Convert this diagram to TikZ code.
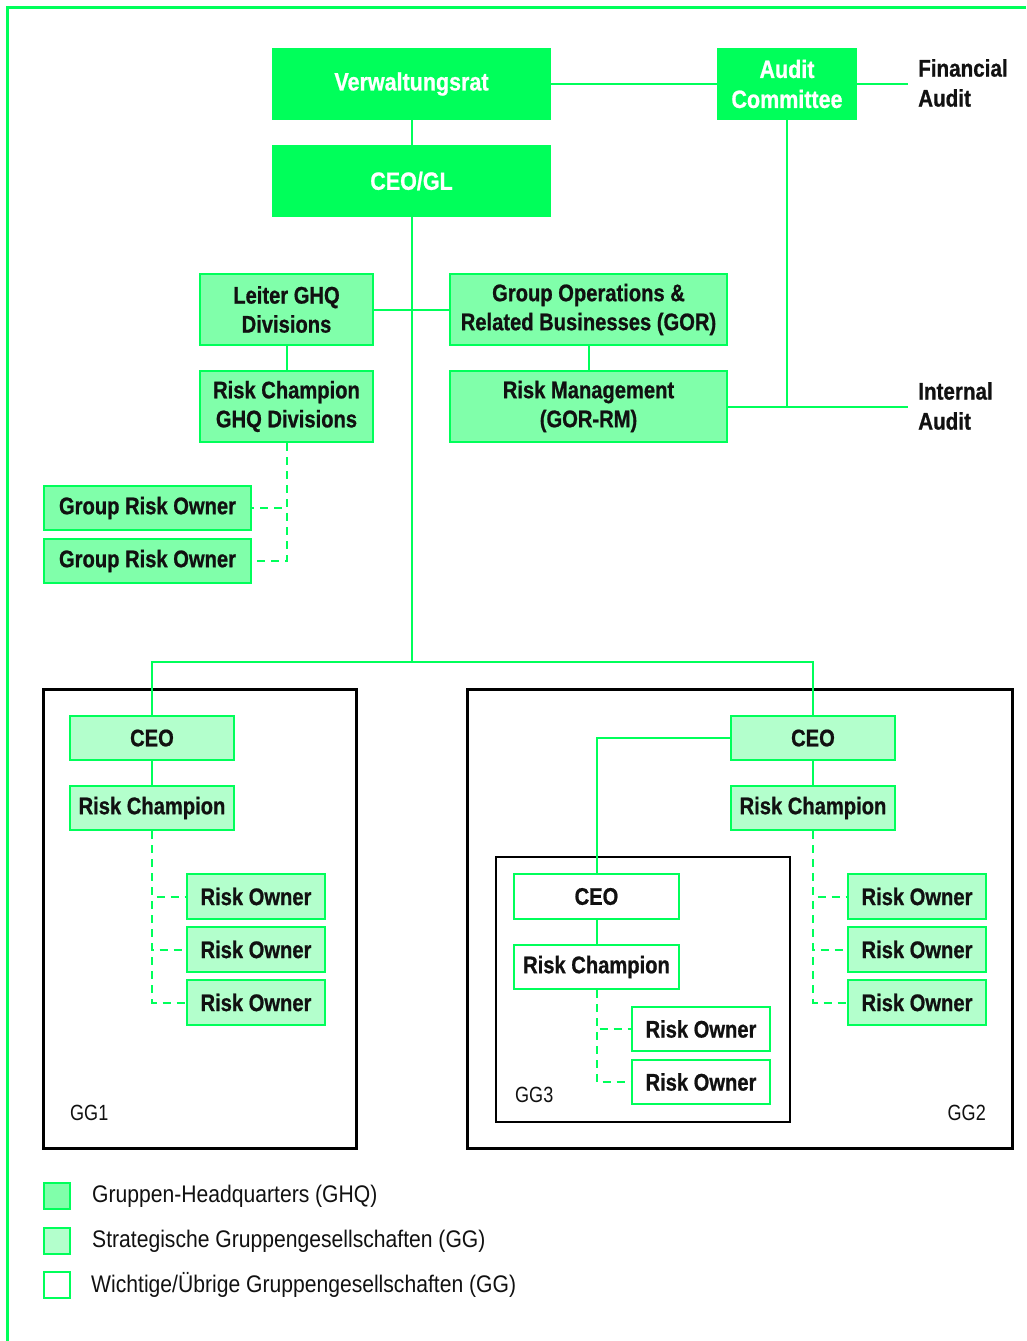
\documentclass[tikz,border=0pt]{standalone}
\usepackage{fontspec}
\setmainfont{Liberation Sans}[FakeStretch=0.82]
\newfontfamily\boxfont{Liberation Sans Bold}[FakeStretch=0.84,FakeBold=0.8]
\newfontfamily\topfont{Liberation Sans Bold}[FakeStretch=0.86,FakeBold=0.8]
\newfontfamily\legfont{Liberation Sans}[FakeStretch=0.88]
\usetikzlibrary{positioning}
\definecolor{gr}{RGB}{0,255,90}
\definecolor{ghqfill}{RGB}{128,255,170}
\definecolor{ggfill}{RGB}{179,255,204}
\definecolor{ink}{RGB}{17,17,17}
\begin{document}
\begin{tikzpicture}[x=1pt,y=-1pt,
  link/.style={draw=gr,line width=2pt},
  dlink/.style={draw=gr,line width=2pt,dash pattern=on 8pt off 6pt},
  topbox/.style={fill=gr,text=white,font=\topfont\fontsize{25}{30}\selectfont,align=center,inner sep=0pt},
  ghqbox/.style={draw=gr,line width=2pt,fill=ghqfill,text=ink,font=\boxfont\fontsize{24}{29}\selectfont,align=center,inner sep=0pt},
  ggbox/.style={draw=gr,line width=2pt,fill=ggfill,text=ink,font=\boxfont\fontsize{24}{29}\selectfont,align=center,inner sep=0pt},
  plainbox/.style={draw=gr,line width=2pt,fill=white,text=ink,font=\boxfont\fontsize{24}{29}\selectfont,align=center,inner sep=0pt},
  sidelabel/.style={text=ink,font=\topfont\fontsize{24}{30}\selectfont,align=left,anchor=west,inner sep=2pt},
  grplabel/.style={text=ink,font=\fontsize{22}{26}\selectfont,inner sep=0pt},
  legsq/.style={draw=gr,line width=2pt,minimum width=26pt,minimum height=26pt,inner sep=0pt},
  legtext/.style={text=ink,font=\legfont\fontsize{24}{28}\selectfont,anchor=west,inner sep=0pt},
  company/.style={draw=black,line width=3pt}
]
\useasboundingbox (0,0) rectangle (1026,1341);
\fill[white] (0,0) rectangle (1026,1341);

% outer frame (top and left edge)
\draw[draw=gr,line width=3pt] (7,1341) -- (7,7) -- (1026,7);

% headquarters level
\node[topbox,minimum width=279pt,minimum height=72pt] (vr) at (411.5,84) {Verwaltungsrat};
\node[topbox,minimum width=279pt,minimum height=72pt] (ceogl) at (411.5,181) {CEO/GL};
\node[topbox,minimum width=140pt,minimum height=72pt] (audit) at (787,84) {Audit\\Committee};
\node[sidelabel] (fa) at (916,83) {Financial\\Audit};
\node[sidelabel] (ia) at (916,406) {Internal\\Audit};

\node[ghqbox,minimum width=173pt,minimum height=71pt] (leiter) at (286.5,309.5) {Leiter GHQ\\Divisions};
\node[ghqbox,minimum width=277pt,minimum height=71pt] (gor) at (588.5,309.5) {Group Operations \&\\Related Businesses (GOR)};
\node[ghqbox,minimum width=173pt,minimum height=71pt] (rcghq) at (286.5,406.5) {Risk Champion\\GHQ Divisions};
\node[ghqbox,minimum width=277pt,minimum height=71pt] (rm) at (588.5,406.5) {Risk Management\\(GOR-RM)};
\node[ghqbox,minimum width=207pt,minimum height=44pt] (gro1) at (147.5,508) {Group Risk Owner};
\node[ghqbox,minimum width=207pt,minimum height=44pt] (gro2) at (147.5,561) {Group Risk Owner};

\draw[link] (vr) -- (audit);
\draw[link] (audit.east) -- (908,84);
\draw[link] (vr) -- (ceogl);
\draw[link] (audit.south) -- (audit.south |- rm.east);
\draw[link] (rm.east) -- (908,406.5);
\draw[link] (leiter) -- (gor);
\draw[link] (leiter) -- (rcghq);
\draw[link] (gor) -- (rm);
\draw[dlink] (rcghq.south) |- (gro1.east);
\draw[dlink] (rcghq.south) |- (gro2.east);

% group companies
\draw[company] (43,689) rectangle (356,1148);
\draw[company] (467,689) rectangle (1012,1148);
\draw[black,line width=2pt] (496,857) rectangle (790,1122);
\node[grplabel,anchor=west] (gg1) at (70,1113) {GG1};
\node[grplabel,anchor=east] (gg2) at (986,1113) {GG2};
\node[grplabel,anchor=west] (gg3) at (515,1095) {GG3};

% GG1
\node[ggbox,minimum width=164pt,minimum height=44pt] (ceo1) at (152,738) {CEO};
\node[ggbox,minimum width=164pt,minimum height=44pt] (rc1) at (152,808) {Risk Champion};
\node[ggbox,minimum width=138pt,minimum height=45pt] (ro11) at (256,896.5) {Risk Owner};
\node[ggbox,minimum width=138pt,minimum height=45pt] (ro12) at (256,949.5) {Risk Owner};
\node[ggbox,minimum width=138pt,minimum height=45pt] (ro13) at (256,1002.5) {Risk Owner};

% GG2
\node[ggbox,minimum width=164pt,minimum height=44pt] (ceo2) at (813,738) {CEO};
\node[ggbox,minimum width=164pt,minimum height=44pt] (rc2) at (813,808) {Risk Champion};
\node[ggbox,minimum width=138pt,minimum height=45pt] (ro21) at (917,896.5) {Risk Owner};
\node[ggbox,minimum width=138pt,minimum height=45pt] (ro22) at (917,949.5) {Risk Owner};
\node[ggbox,minimum width=138pt,minimum height=45pt] (ro23) at (917,1002.5) {Risk Owner};

% GG3
\node[plainbox,minimum width=165pt,minimum height=45pt] (ceo3) at (596.5,896.5) {CEO};
\node[plainbox,minimum width=165pt,minimum height=44pt] (rc3) at (596.5,967) {Risk Champion};
\node[plainbox,minimum width=138pt,minimum height=44pt] (ro31) at (701,1029) {Risk Owner};
\node[plainbox,minimum width=138pt,minimum height=44pt] (ro32) at (701,1082) {Risk Owner};

\coordinate (hub) at (411.5,662);
\draw[link] (ceogl.south) -- (hub);
\draw[link] (ceo1.north) |- (hub) -| (ceo2.north);
\draw[link] (ceo1) -- (rc1);
\draw[link] (ceo2) -- (rc2);
\draw[link] (ceo2.west) -| (ceo3.north);
\draw[link] (ceo3) -- (rc3);
\foreach \o in {ro11,ro12,ro13} \draw[dlink] (rc1.south) |- (\o.west);
\foreach \o in {ro21,ro22,ro23} \draw[dlink] (rc2.south) |- (\o.west);
\foreach \o in {ro31,ro32} \draw[dlink] (rc3.south) |- (\o.west);

% legend
\node[legsq,fill=ghqfill] (l1) at (57,1196) {};
\node[legsq,fill=ggfill] (l2) at (57,1241) {};
\node[legsq,fill=white] (l3) at (57,1285) {};
\node[legtext] (t1) at (92,1196) {Gruppen-Headquarters (GHQ)};
\node[legtext] (t2) at (92,1241) {Strategische Gruppengesellschaften (GG)};
\node[legtext] (t3) at (91,1285) {Wichtige/Übrige Gruppengesellschaften (GG)};
\end{tikzpicture}
\end{document}
